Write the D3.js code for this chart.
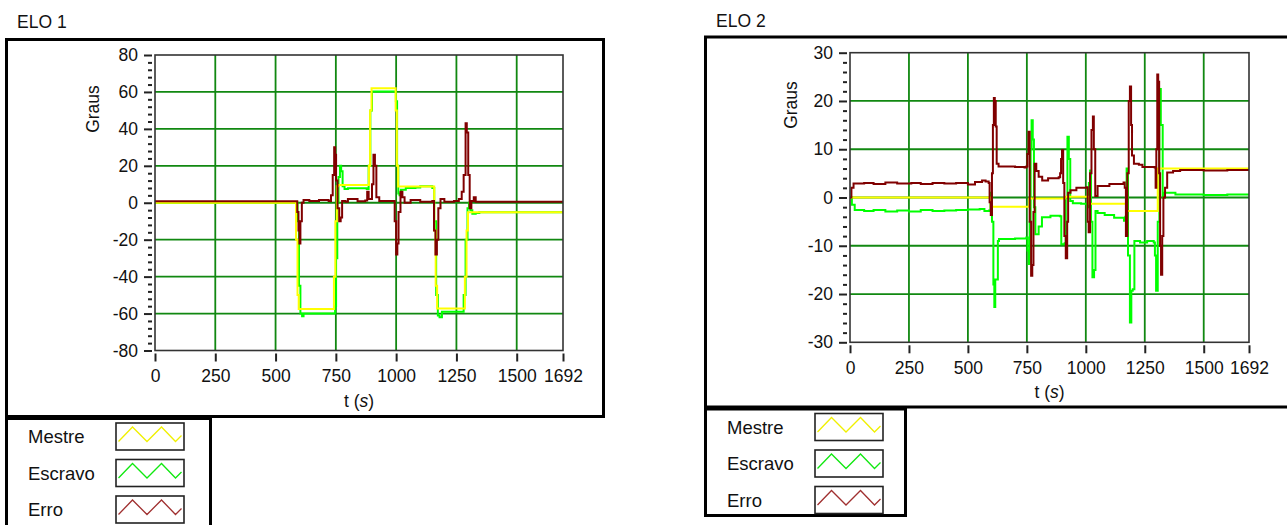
<!DOCTYPE html>
<html>
<head>
<meta charset="utf-8">
<script src="https://cdn.jsdelivr.net/npm/d3@7"></script>
<style>
	html, body { margin: 0; padding: 0; background: #fff; }
	svg { display: block; font-family: 'Liberation Sans', Arial, sans-serif; }
</style>
</head>
<body>
<svg id="main-vis" width="1287" height="525"></svg>
<script>
// DATA (t in s, angle in degrees)
const seriesNames = ['Mestre', 'Escravo', 'Erro']
const xTicks = [0, 250, 500, 750, 1000, 1250, 1500, 1692]
const elo1YTicks = [-80, -60, -40, -20, 0, 20, 40, 60, 80]
const elo2YTicks = [-30, -20, -10, 0, 10, 20, 30]

const elo1Mestre = [[0,0],[580,0],[585,-20],[591,-50],[596,-57.5],[738,-57.5],[742,-40],[748,-10],[754,9],[760,9.6],[882,9.6],[887,20],[892,50],[898,62],[994,62],[998,50],[1003,20],[1008,8.8],[1153,8.8],[1158,-15],[1164,-45],[1170,-57.2],[1280,-57.2],[1285,-40],[1292,-15],[1298,-5.2],[1692,-5.2]]
const elo1Escravo = [[0,0],[586,0],[591,-10],[597,-45],[603,-60],[610,-61.5],[616,-60],[742,-60],[747,-56],[751,-30],[756,0],[761,14],[767,20],[772,17],[778,9],[786,7.5],[800,7.8],[878,7.5],[886,20],[893,50],[900,60.3],[992,60.3],[999,55],[1004,20],[1009,5],[1014,4],[1020,7],[1040,8],[1080,8.2],[1100,9],[1150,8],[1158,-10],[1166,-50],[1173,-61],[1180,-62],[1190,-59],[1272,-59],[1280,-50],[1288,-20],[1296,-3],[1302,0],[1308,-4],[1316,-6],[1330,-5.6],[1345,-5.2],[1692,-5.2]]
const elo1Erro = [[0,0.8],[586,0.8],[590,-5],[595,-15],[599,-22],[603,-10],[609,0],[616,1.5],[640,1],[680,1.5],[720,1],[730,4],[737,15],[743,30],[747,26],[751,12],[757,-3],[764,-10],[770,-8],[776,1],[790,0.5],[800,2],[840,0.8],[872,1.2],[880,6],[886,2],[900,10],[906,26],[912,20],[918,3],[930,1],[985,1],[994,-10],[1000,-28],[1005,-22],[1010,-5],[1018,6],[1026,3],[1035,0],[1060,1.5],[1100,0.5],[1150,1],[1157,-15],[1163,-28],[1169,-20],[1175,-3],[1184,2],[1200,0.5],[1240,1],[1260,2],[1272,6],[1280,15],[1288,43],[1293,38],[1299,15],[1305,-3],[1312,1],[1322,3],[1330,0.5],[1692,0.5]]

const elo2Mestre = [[0,0],[593,0],[597,-1.9],[755,-1.9],[760,-0.2],[910,-0.2],[913,0.15],[1011,0.15],[1015,-1.3],[1166,-1.3],[1171,-2.8],[1300,-2.8],[1305,6],[1692,6]]
const elo2Escravo = [[0,0],[8,-1.5],[20,-2.6],[60,-2.8],[100,-2.6],[150,-2.9],[200,-2.7],[250,-2.9],[300,-2.6],[350,-2.8],[400,-2.7],[450,-2.6],[500,-2.5],[550,-2.4],[570,-2.8],[590,-2.7],[596,1],[602,-5],[608,-18],[612,-22.7],[616,-17],[622,-17],[627,-9],[632,-8.6],[700,-8.5],[748,-8.3],[753,-11],[758,-13.8],[762,-5],[766,10],[770,16],[775,12],[780,-2],[786,-7.6],[800,-6],[814,-4.1],[850,-3.8],[890,-3.9],[896,-9.7],[910,-9.5],[915,0],[922,12.6],[928,8],[934,-0.7],[945,-1.2],[980,-1.3],[1004,-1.4],[1008,-2],[1013,3],[1018,5.6],[1022,-5],[1028,-16.5],[1035,-15],[1041,-2.8],[1050,-3.2],[1080,-3.6],[1120,-4.2],[1162,-4.8],[1168,-4],[1173,6],[1179,-12],[1187,-25.9],[1193,-19.3],[1199,-19],[1206,-9],[1230,-9.3],[1260,-9],[1288,-9.3],[1293,-12],[1298,-19.3],[1305,-5],[1312,22.5],[1318,15],[1326,0],[1334,1],[1360,1],[1380,0.6],[1450,0.6],[1500,0.5],[1600,0.6],[1692,0.5]]
const elo2Erro = [[0,0],[6,2],[15,2.9],[60,3],[100,2.8],[150,3.1],[200,2.9],[260,3],[300,2.8],[350,3],[400,2.9],[450,3],[500,2.7],[530,3.2],[560,3.5],[575,3.3],[588,3],[592,-1],[597,-3.6],[602,5],[606,15],[610,20.6],[614,20],[618,14.7],[622,7],[630,6.4],[700,6.3],[740,6.2],[748,6.4],[752,9],[757,13.6],[762,-5],[768,-16.2],[773,-14],[778,-3],[783,7],[790,5.5],[800,4.3],[815,3.5],[840,4],[885,4.2],[891,5],[895,8],[899,9.8],[904,3],[909,-8],[915,-12.6],[921,-5],[925,1],[935,1.5],[960,2],[1004,2.1],[1008,-5],[1012,-7.2],[1018,5],[1024,14],[1030,16.8],[1034,10],[1040,0.3],[1050,2.4],[1100,2.8],[1160,3.1],[1165,2],[1170,-8],[1176,5],[1182,20],[1187,23],[1192,15],[1196,8.7],[1204,7],[1225,6.8],[1240,6.3],[1292,6.2],[1296,2],[1299,10],[1303,25.5],[1307,24],[1311,5],[1315,-10],[1319,-16],[1324,-8],[1329,0],[1336,2],[1345,5.2],[1370,5.5],[1400,5.7],[1500,5.6],[1600,5.7],[1692,5.6]]

// STYLE
const seriesColors = { Mestre: '#ffff00', Escravo: '#00ff00', Erro: '#800000' }
const swatchColors = { Mestre: '#f0f000', Escravo: '#10e810', Erro: '#a03030' }
const gridColor = '#118811'
const fontSize = 17.5

// LAYOUT
const panels = [
	{
		title: 'ELO 1', titleX: 17, titleY: 28,
		frame: { x0: 5, y0: 38, x1: 605, y1: 418 },
		plot: { x0: 155, y0: 55, x1: 563, y1: 350.5 },
		yDomain: [-80, 80], yTicks: elo1YTicks, minorStep: 4,
		ylabel: { x: 93, y: 109 },
		legend: { x0: 5, y0: 417, x1: 212, y1: 540 },
		series: { Mestre: elo1Mestre, Escravo: elo1Escravo, Erro: elo1Erro }
	},
	{
		title: 'ELO 2', titleX: 716, titleY: 26.5,
		frame: { x0: 704, y0: 35.5, x1: 1295, y1: 408.5 },
		plot: { x0: 850, y0: 52.7, x1: 1249, y1: 342.3 },
		yDomain: [-30, 30], yTicks: elo2YTicks, minorStep: 2,
		ylabel: { x: 791, y: 105 },
		legend: { x0: 704, y0: 407.5, x1: 907, y1: 517 },
		series: { Mestre: elo2Mestre, Escravo: elo2Escravo, Erro: elo2Erro }
	}
]

// plain hyphen for negatives, like the original
const fmt = d => String(d)

function drawPanel (svg, p, i) {
	const x = d3.scaleLinear().domain([0, 1692]).range([p.plot.x0, p.plot.x1])
	const y = d3.scaleLinear().domain(p.yDomain).range([p.plot.y1, p.plot.y0])
	const g = svg.append('g').attr('class', 'panel')

	// TITLE
	g.append('text')
		.attr('x', p.titleX).attr('y', p.titleY)
		.style('font-size', fontSize + 'px').attr('fill', '#111')
		.text(p.title)

	// FRAME
	g.append('rect')
		.attr('x', p.frame.x0 + 1.5).attr('y', p.frame.y0 + 1.5)
		.attr('width', p.frame.x1 - p.frame.x0 - 3).attr('height', p.frame.y1 - p.frame.y0 - 3)
		.attr('fill', '#fff').attr('stroke', '#000').attr('stroke-width', 3)

	// PLOT BG
	g.append('rect')
		.attr('x', p.plot.x0).attr('y', p.plot.y0)
		.attr('width', p.plot.x1 - p.plot.x0).attr('height', p.plot.y1 - p.plot.y0)
		.attr('fill', '#fff')

	// GRID
	g.append('g').selectAll('line')
		.data(xTicks.slice(1, -1))
		.join('line')
		.attr('x1', d => x(d)).attr('x2', d => x(d))
		.attr('y1', p.plot.y0).attr('y2', p.plot.y1)
		.attr('stroke', gridColor).attr('stroke-width', 1.8)
	g.append('g').selectAll('line')
		.data(p.yTicks.slice(1, -1))
		.join('line')
		.attr('x1', p.plot.x0).attr('x2', p.plot.x1)
		.attr('y1', d => y(d)).attr('y2', d => y(d))
		.attr('stroke', gridColor).attr('stroke-width', 1.8)

	// LINES
	const clipId = `clip-${i}`
	g.append('clipPath').attr('id', clipId)
		.append('rect')
		.attr('x', p.plot.x0).attr('y', p.plot.y0)
		.attr('width', p.plot.x1 - p.plot.x0).attr('height', p.plot.y1 - p.plot.y0)
	const line = d3.line().x(d => x(d[0])).y(d => y(d[1])).curve(d3.curveStepAfter)
	const order = ['Escravo', 'Mestre', 'Erro']
	g.append('g').attr('clip-path', `url(#${clipId})`)
		.selectAll('path')
		.data(order)
		.join('path')
		.attr('d', d => line(p.series[d]))
		.attr('fill', 'none')
		.attr('stroke', d => seriesColors[d])
		.attr('stroke-width', 2)

	// PLOT BORDER
	g.append('rect')
		.attr('x', p.plot.x0).attr('y', p.plot.y0)
		.attr('width', p.plot.x1 - p.plot.x0).attr('height', p.plot.y1 - p.plot.y0)
		.attr('fill', 'none').attr('stroke', '#333').attr('stroke-width', 1.6)

	// AXES
	const yAxis = g.append('g')
		.attr('transform', `translate(${p.plot.x0 - 3},0)`)
		.call(d3.axisLeft(y).tickValues(p.yTicks).tickSize(8).tickPadding(6).tickFormat(fmt))
	const minor = d3.range(p.yDomain[0], p.yDomain[1] + 0.001, p.minorStep).filter(d => !p.yTicks.includes(d))
	const yMinor = g.append('g')
		.attr('transform', `translate(${p.plot.x0 - 3},0)`)
		.call(d3.axisLeft(y).tickValues(minor).tickSize(4).tickFormat(''))
	const xAxis = g.append('g')
		.attr('transform', `translate(0,${p.plot.y1 + 3})`)
		.call(d3.axisBottom(x).tickValues(xTicks).tickSize(8).tickPadding(8.5).tickFormat(fmt))
	;[yAxis, yMinor, xAxis].forEach(a => {
		a.select('.domain').remove()
		a.selectAll('line').attr('stroke', '#222').attr('stroke-width', 2)
		a.selectAll('text').attr('fill', '#111').style('font-size', fontSize + 'px').attr('font-family', null)
	})

	// AXIS TITLES
	g.append('text')
		.attr('transform', `translate(${p.ylabel.x + 6},${p.ylabel.y}) rotate(-90)`)
		.attr('text-anchor', 'middle')
		.style('font-size', fontSize + 'px').attr('fill', '#111')
		.text('Graus')
	const xt = g.append('text')
		.attr('x', (p.plot.x0 + p.plot.x1) / 2).attr('y', p.plot.y1 + 56)
		.attr('text-anchor', 'middle')
		.style('font-size', fontSize + 'px').attr('fill', '#111')
	xt.append('tspan').text('t (')
	xt.append('tspan').style('font-style', 'italic').text('s')
	xt.append('tspan').text(')')

	// LEGEND
	const lg = g.append('g')
	lg.append('rect')
		.attr('x', p.legend.x0 + 1.5).attr('y', p.legend.y0 + 1.5)
		.attr('width', p.legend.x1 - p.legend.x0 - 3).attr('height', p.legend.y1 - p.legend.y0 - 3)
		.attr('fill', '#fff').attr('stroke', '#000').attr('stroke-width', 3)
	const rowH = 36.5
	const sw = 68, sh = 28
	const rows = lg.selectAll('g.row')
		.data(seriesNames)
		.join('g')
		.attr('class', 'row')
		.attr('transform', (d, k) => `translate(${p.legend.x0},${p.legend.y0 + 5.5 + k * rowH})`)
	rows.append('text')
		.attr('x', 23).attr('y', sh / 2 + 6.5)
		.style('font-size', '18.5px').attr('fill', '#111')
		.text(d => d)
	rows.append('rect')
		.attr('x', 111).attr('y', 0.5)
		.attr('width', sw).attr('height', sh - 1)
		.attr('fill', '#fff').attr('stroke', '#222').attr('stroke-width', 1.6)
	const zig = [[2.5, 19], [16.5, 4.5], [31, 19], [45.5, 4.5], [59.5, 19], [65.5, 13]]
	rows.append('polyline')
		.attr('points', zig.map(q => `${111 + q[0]},${q[1]}`).join(' '))
		.attr('fill', 'none')
		.attr('stroke', d => swatchColors[d])
		.attr('stroke-width', 1.3)
}

function DOMLoad () {
	const svg = d3.select('svg#main-vis')
	svg.append('rect').attr('width', 1287).attr('height', 525).attr('fill', '#fff')
	panels.forEach((p, i) => drawPanel(svg, p, i))
}

if (document.readyState === 'loading') {
	document.addEventListener('DOMContentLoaded', DOMLoad)
} else {
	DOMLoad()
}
</script>
</body>
</html>
